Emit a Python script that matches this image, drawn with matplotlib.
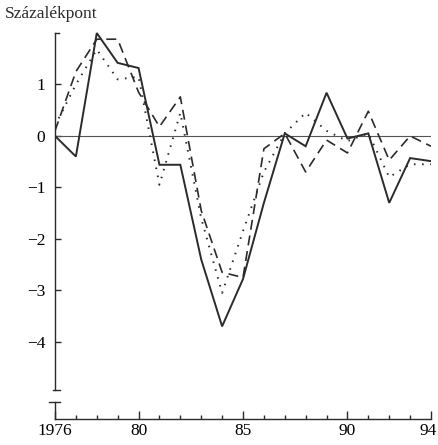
import matplotlib
matplotlib.use("Agg")
import matplotlib.pyplot as plt
import matplotlib.transforms as mtransforms

# years on the x axis
years = list(range(1976, 1995))

# three series (percentage points)
solid = [0, -0.4, 2.0, 1.42, 1.32, -0.56, -0.56, -2.4, -3.7, -2.78,
         -1.3, 0.05, -0.2, 0.84, -0.05, 0.05, -1.3, -0.43, -0.49]
dashed = [0.1, 1.25, 1.88, 1.88, 0.85, 0.18, 0.76, -1.45, -2.65, -2.75,
          -0.25, 0.05, -0.7, -0.08, -0.33, 0.48, -0.47, 0.0, -0.2]
dotted = [0.2, 1.0, 1.68, 1.1, 1.15, -0.95, 0.45, -1.6, -3.05, -1.85,
          -0.7, 0.05, 0.45, 0.1, -0.1, 0.05, -0.8, -0.55, -0.55]

y_ticks = [1, 0, -1, -2, -3, -4]
x_ticks = [1976, 1980, 1985, 1990, 1994]
x_labels = ["1976", "80", "85", "90", "94"]

plt.rcParams['font.family'] = ['Liberation Serif', 'DejaVu Serif']
ink = "#2b2b2b"

fig = plt.figure(figsize=(4.38, 4.45), dpi=100)
ax = fig.add_axes([55 / 438, 26 / 445, 376 / 438, 387 / 445])
ax.set_xlim(1976, 1994)
ax.set_ylim(-5.5, 2.02)

# zero line
ax.plot([1976, 1994], [0, 0], color="#555555", lw=0.8)

ax.plot(years, solid, color=ink, lw=1.4, solid_joinstyle="miter")
ax.plot(years, dashed, color=ink, lw=1.2, dashes=(6, 3.5))
ax.plot(years, dotted, color=ink, lw=1.4, dashes=(0.8, 3.4))

# broken left axis drawn by hand
ax.spines['left'].set_visible(False)
ax.spines['right'].set_visible(False)
ax.spines['top'].set_visible(False)
ax.spines['bottom'].set_color(ink)
ax.spines['bottom'].set_linewidth(1.0)
kw = dict(color=ink, lw=1.0, clip_on=False)
ax.plot([1976, 1976], [2.0, -4.94], **kw)
ax.plot([1976, 1976.2], [2.0, 2.0], **kw)
ax.plot([1975.9, 1976.25], [-4.94, -4.94], **kw)
ax.plot([1976, 1976], [-5.17, -5.5], **kw)
ax.plot([1975.7, 1976.25], [-5.17, -5.17], **kw)

ax.set_yticks(y_ticks)
ax.set_yticklabels([str(v).replace("-", "\u2212") for v in y_ticks])
ax.tick_params(axis='y', direction='in', length=4, width=1.0, color=ink,
               labelsize=12.5, pad=7)

ax.set_xticks(x_ticks)
ax.set_xticklabels(x_labels)
ax.set_xticks([y for y in years if y not in x_ticks], minor=True)
ax.tick_params(axis='x', which='major', direction='in', length=6, width=1.0,
               color=ink, labelsize=12.5, pad=3)
ax.tick_params(axis='x', which='minor', direction='in', length=3, width=1.0,
               color=ink)

# last label sits left of its tick so it stays inside the picture
last = ax.get_xticklabels()[-1]
last.set_ha('right')
last.set_transform(last.get_transform() +
                   mtransforms.ScaledTranslation(6 / 100, 0, fig.dpi_scale_trans))

fig.text(5 / 438, 1 - 14 / 445, "Százalékpont", fontsize=12.5, va="center",
         ha="left", color=ink)

fig.savefig("out.png", dpi=100)
